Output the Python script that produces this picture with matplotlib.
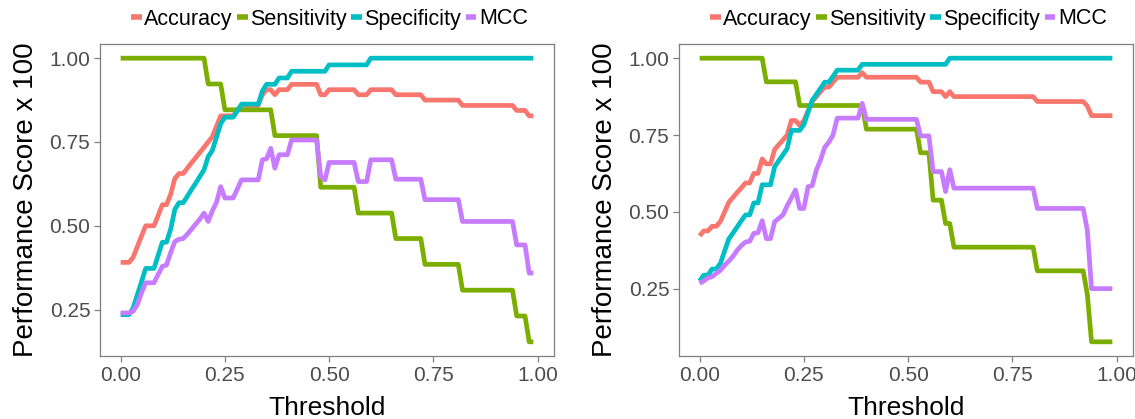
import numpy as np
import matplotlib
matplotlib.use("Agg")
import matplotlib.pyplot as plt

plt.rcParams['font.family'] = ['Liberation Sans', 'DejaVu Sans']

thresholds = np.round(np.arange(0, 1.0, 0.01), 2)

series_names = ["Accuracy", "Sensitivity", "Specificity", "MCC"]
colors = ["#F8766D", "#7CAE00", "#00BFC4", "#C77CFF"]

# ---------------- left panel ----------------
left_sens = [1, 1, 1, 1, 1, 1, 1, 1, 1, 1,
             1, 1, 1, 1, 1, 1, 1, 1, 1, 1,
             1, .923, .923, .923, .923, .846, .846, .846, .846, .846,
             .846, .846, .846, .846, .846, .846, .846, .769, .769, .769,
             .769, .769, .769, .769, .769, .769, .769, .769, .615, .615,
             .615, .615, .615, .615, .615, .615, .615, .538, .538, .538,
             .538, .538, .538, .538, .538, .538, .462, .462, .462, .462,
             .462, .462, .462, .385, .385, .385, .385, .385, .385, .385,
             .385, .385, .308, .308, .308, .308, .308, .308, .308, .308,
             .308, .308, .308, .308, .308, .231, .231, .231, .154, .154]

left_spec = [.235, .235, .235, .255, .294, .333, .373, .373, .373, .412,
             .451, .451, .490, .549, .569, .569, .588, .608, .627, .647,
             .667, .706, .725, .765, .804, .824, .824, .824, .843, .863,
             .863, .863, .863, .863, .902, .922, .922, .922, .941, .941,
             .941, .961, .961, .961, .961, .961, .961, .961, .961, .961,
             .980, .980, .980, .980, .980, .980, .980, .980, .980, .980,
             1, 1, 1, 1, 1, 1, 1, 1, 1, 1,
             1, 1, 1, 1, 1, 1, 1, 1, 1, 1,
             1, 1, 1, 1, 1, 1, 1, 1, 1, 1,
             1, 1, 1, 1, 1, 1, 1, 1, 1, 1]

left_acc = [.391, .391, .391, .406, .438, .469, .500, .500, .500, .531,
            .563, .563, .594, .641, .656, .656, .672, .688, .703, .719,
            .734, .750, .766, .797, .828, .828, .828, .828, .844, .859,
            .859, .859, .859, .859, .891, .906, .906, .891, .906, .906,
            .906, .922, .922, .922, .922, .922, .922, .922, .891, .891,
            .906, .906, .906, .906, .906, .906, .906, .891, .891, .891,
            .906, .906, .906, .906, .906, .906, .891, .891, .891, .891,
            .891, .891, .891, .875, .875, .875, .875, .875, .875, .875,
            .875, .875, .859, .859, .859, .859, .859, .859, .859, .859,
            .859, .859, .859, .859, .859, .844, .844, .844, .828, .828]

left_mcc = [.240, .240, .240, .245, .265, .300, .330, .330, .330, .355,
            .379, .383, .420, .453, .460, .462, .475, .490, .505, .520,
            .538, .513, .545, .570, .617, .583, .583, .583, .610, .637,
            .637, .637, .637, .637, .697, .700, .731, .672, .712, .712,
            .712, .756, .756, .756, .756, .756, .756, .756, .647, .637,
            .689, .689, .689, .689, .689, .689, .689, .632, .632, .632,
            .697, .697, .697, .697, .697, .697, .639, .639, .639, .639,
            .639, .639, .639, .578, .578, .578, .578, .578, .578, .578,
            .578, .578, .513, .513, .513, .513, .513, .513, .513, .513,
            .513, .513, .513, .513, .513, .443, .443, .443, .359, .359]

# ---------------- right panel ----------------
right_sens = [1, 1, 1, 1, 1, 1, 1, 1, 1, 1,
              1, 1, 1, 1, 1, 1, .923, .923, .923, .923,
              .923, .923, .923, .923, .846, .846, .846, .846, .846, .846,
              .846, .846, .846, .846, .846, .846, .846, .846, .846, .846,
              .769, .769, .769, .769, .769, .769, .769, .769, .769, .769,
              .769, .769, .769, .692, .692, .692, .538, .538, .538, .462,
              .462, .385, .385, .385, .385, .385, .385, .385, .385, .385,
              .385, .385, .385, .385, .385, .385, .385, .385, .385, .385,
              .385, .308, .308, .308, .308, .308, .308, .308, .308, .308,
              .308, .308, .308, .231, .077, .077, .077, .077, .077, .077]

right_spec = [.275, .294, .294, .314, .314, .333, .373, .412, .431, .451,
              .471, .490, .490, .529, .529, .588, .588, .588, .647, .667,
              .686, .706, .765, .765, .765, .784, .824, .863, .882, .902,
              .922, .922, .941, .961, .961, .961, .961, .961, .961, .980,
              .980, .980, .980, .980, .980, .980, .980, .980, .980, .980,
              .980, .980, .980, .980, .980, .980, .980, .980, .980, .980,
              1, 1, 1, 1, 1, 1, 1, 1, 1, 1,
              1, 1, 1, 1, 1, 1, 1, 1, 1, 1,
              1, 1, 1, 1, 1, 1, 1, 1, 1, 1,
              1, 1, 1, 1, 1, 1, 1, 1, 1, 1]

right_acc = [.422, .438, .438, .453, .453, .469, .500, .531, .547, .563,
             .578, .594, .594, .625, .625, .672, .656, .656, .703, .719,
             .734, .750, .797, .797, .781, .797, .828, .859, .875, .891,
             .906, .906, .922, .938, .938, .938, .938, .938, .938, .953,
             .938, .938, .938, .938, .938, .938, .938, .938, .938, .938,
             .938, .938, .938, .922, .922, .922, .891, .891, .891, .875,
             .891, .875, .875, .875, .875, .875, .875, .875, .875, .875,
             .875, .875, .875, .875, .875, .875, .875, .875, .875, .875,
             .875, .859, .859, .859, .859, .859, .859, .859, .859, .859,
             .859, .859, .859, .844, .813, .813, .813, .813, .813, .813]

right_mcc = [.267, .275, .285, .289, .300, .310, .326, .340, .355, .375,
             .390, .402, .404, .430, .432, .471, .413, .413, .468, .479,
             .490, .520, .545, .571, .511, .511, .582, .585, .636, .669,
             .710, .727, .750, .805, .805, .805, .805, .805, .805, .853,
             .801, .801, .801, .801, .801, .801, .801, .801, .801, .801,
             .801, .801, .801, .747, .747, .747, .631, .631, .631, .566,
             .637, .577, .577, .577, .577, .577, .577, .577, .577, .577,
             .577, .577, .577, .577, .577, .577, .577, .577, .577, .577,
             .577, .511, .511, .511, .511, .511, .511, .511, .511, .511,
             .511, .511, .511, .440, .250, .250, .250, .250, .250, .250]

panels = [
    [left_acc, left_sens, left_spec, left_mcc],
    [right_acc, right_sens, right_spec, right_mcc],
]

W, H = 1135, 419
fig = plt.figure(figsize=(W / 100, H / 100), dpi=100)
ax_rects = [
    [100 / W, 1 - 356 / H, 454 / W, 312 / H],
    [679 / W, 1 - 356 / H, 454 / W, 312 / H],
]

spine_col = "#7F7F7F"
for rect, data in zip(ax_rects, panels):
    ax = fig.add_axes(rect)
    for name, col, vals in zip(series_names, colors, data):
        ax.plot(thresholds, vals, color=col, lw=3.4, label=name,
                solid_joinstyle="round", solid_capstyle="butt")
    ax.margins(x=0.05, y=0.05)
    ax.set_xticks([0, 0.25, 0.5, 0.75, 1.0])
    ax.set_xticklabels(["0.00", "0.25", "0.50", "0.75", "1.00"])
    ax.set_yticks([0.25, 0.5, 0.75, 1.0])
    ax.set_yticklabels(["0.25", "0.50", "0.75", "1.00"])
    ax.tick_params(axis="both", which="major", length=4.5, width=0.9,
                   color=spine_col, labelcolor="#4D4D4D", labelsize=15, pad=2.5)
    for sp in ax.spines.values():
        sp.set_color(spine_col)
        sp.set_linewidth(0.9)
    ax.set_xlabel("Threshold", fontsize=19, color="black", labelpad=8)
    ax.set_ylabel("Performance Score x 100", fontsize=20, color="black", labelpad=7.5)
    leg = ax.legend(loc="center", bbox_to_anchor=(0.505, 1 + 25 / 312), ncol=4,
                    frameon=False, fontsize=15.5, handlelength=0.5,
                    handletextpad=0.12, columnspacing=0.2, borderpad=0,
                    borderaxespad=0)
    for line in leg.get_lines():
        line.set_linewidth(4)

fig.savefig("out.png", dpi=100)
